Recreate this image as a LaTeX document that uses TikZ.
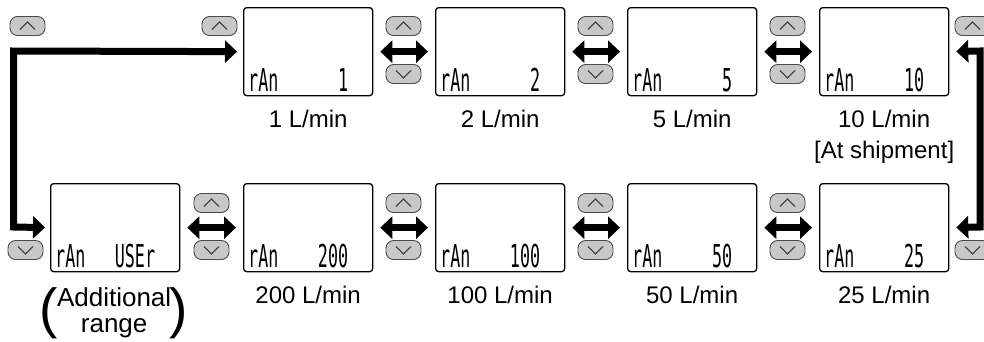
\documentclass[tikz,border=0pt]{standalone}
\usepackage{fontspec}
\setmainfont{Liberation Sans}
\newfontfamily\segfont[FakeStretch=0.53]{DejaVu Sans Mono}
\usetikzlibrary{arrows.meta}
\definecolor{btnfill}{HTML}{C8C8C8}
\definecolor{btnline}{HTML}{4A4A4A}
\begin{document}
\begin{tikzpicture}[x=1pt,y=-1pt,
  lcd/.style={draw, line width=1.3pt, rounded corners=3pt, minimum width=129pt, minimum height=88pt, inner sep=0pt, anchor=north west},
  btn/.style={draw=btnline, line width=0.9pt, fill=btnfill, rounded corners=7.5pt, minimum width=35pt, minimum height=19pt, inner sep=0pt},
  chev/.style={draw=btnline, line width=1.1pt},
  seg/.style={font=\segfont\fontsize{31.5}{31.5}\selectfont, inner sep=0pt},
  lbl/.style={font=\fontsize{24}{29}\selectfont, inner sep=0pt, anchor=base},
  addlbl/.style={font=\fontsize{26}{26}\selectfont, inner sep=0pt, anchor=base},
  paren/.style={font=\fontsize{55}{55}\selectfont, inner sep=0pt, anchor=center},
  tipA/.tip={Triangle[length=12pt,width=22pt]},
  dbl/.style={line width=7pt, tipA-tipA, shorten <=7pt, shorten >=7pt},
  bigL/.style={line width=7pt, tipA-tipA, line join=miter},
  upbtn/.pic={\node[btn] (-b) {}; \draw[chev] (-7.5pt,-3.5pt) -- (0pt,4pt) -- (7.5pt,-3.5pt);},
  dnbtn/.pic={\node[btn] (-b) {}; \draw[chev] (-7.5pt,3.5pt) -- (0pt,-4pt) -- (7.5pt,3.5pt);}
]
\clip (0,0) rectangle (984,341);

% displays, top row
\node[lcd] (t1) at (243,7) {};
\node[lcd] (t2) at (435,7) {};
\node[lcd] (t3) at (627,7) {};
\node[lcd] (t4) at (819,7) {};
% displays, bottom row
\node[lcd] (bU) at (50,183) {};
\node[lcd] (b200) at (243,183) {};
\node[lcd] (b100) at (435,183) {};
\node[lcd] (b50) at (627,183) {};
\node[lcd] (b25) at (819,183) {};

% display texts
\foreach \n/\v in {t1/1, t2/2, t3/5, t4/10, bU/USEr, b200/200, b100/100, b50/50, b25/25}{
  \node[seg, anchor=base west] (\n-r) at ([xshift=5pt,yshift=5pt]\n.south west) {rAn};
  \node[seg, anchor=base east] (\n-v) at ([xshift=-25pt,yshift=5pt]\n.south east) {\v};
}

% labels
\node[lbl] (l1) at ([yshift=-31pt]t1.south) {1 L/min};
\node[lbl] (l2) at ([yshift=-31pt]t2.south) {2 L/min};
\node[lbl] (l5) at ([yshift=-31pt]t3.south) {5 L/min};
\node[lbl] (l10) at ([yshift=-31pt]t4.south) {10 L/min};
\node[lbl] (lship) at ([yshift=-62pt]t4.south) {[At shipment]};
\node[lbl] (l200) at ([yshift=-31pt]b200.south) {200 L/min};
\node[lbl] (l100) at ([yshift=-31pt]b100.south) {100 L/min};
\node[lbl] (l50) at ([yshift=-31pt]b50.south) {50 L/min};
\node[lbl] (l25) at ([yshift=-31pt]b25.south) {25 L/min};
\node[addlbl] (ladd1) at ([xshift=-1pt,yshift=-34pt]bU.south) {Additional};
\node[addlbl] (ladd2) at ([xshift=-1pt,yshift=-60pt]bU.south) {range};
\node[paren] (lpar) at ([xshift=-66pt,yshift=-41pt]bU.south) {(};
\node[paren] (rpar) at ([xshift=64pt,yshift=-41pt]bU.south) {)};

% double arrows
\draw[dbl] (t1.east) -- (t2.west);
\draw[dbl] (t2.east) -- (t3.west);
\draw[dbl] (t3.east) -- (t4.west);
\draw[dbl] (bU.east) -- (b200.west);
\draw[dbl] (b200.east) -- (b100.west);
\draw[dbl] (b100.east) -- (b50.west);
\draw[dbl] (b50.east) -- (b25.west);

% wrap-around arrows
\coordinate (lc1) at (13.5,51);
\coordinate (lc2) at (13.5,227);
\coordinate (rc1) at (980,51);
\coordinate (rc2) at (980,227);
\draw[bigL, shorten <=6pt, shorten >=5pt] (t1.west) -- (lc1) -- (lc2) -- (bU.west);
\draw[bigL, shorten <=7pt, shorten >=7pt] (t4.east) -- (rc1) -- (rc2) -- (b25.east);

% buttons
\pic (ua) at (27.5,26) {upbtn};
\pic (ub) at (219.5,26) {upbtn};
\pic (uc) at (403.5,26) {upbtn};
\pic (ud) at (595.5,26) {upbtn};
\pic (ue) at (787.5,26) {upbtn};
\pic (uf) at (972.5,26) {upbtn};
\pic (dc) at (403.5,74) {dnbtn};
\pic (dd) at (595.5,74) {dnbtn};
\pic (de) at (787.5,74) {dnbtn};
\pic (ug) at (211.5,203) {upbtn};
\pic (uh) at (403.5,203) {upbtn};
\pic (ui) at (595.5,203) {upbtn};
\pic (uj) at (787.5,203) {upbtn};
\pic (da) at (25.5,250) {dnbtn};
\pic (dg) at (211.5,250) {dnbtn};
\pic (dh) at (403.5,250) {dnbtn};
\pic (di) at (595.5,250) {dnbtn};
\pic (dj) at (787.5,250) {dnbtn};
\pic (dk) at (972.5,250) {dnbtn};
\end{tikzpicture}
\end{document}
